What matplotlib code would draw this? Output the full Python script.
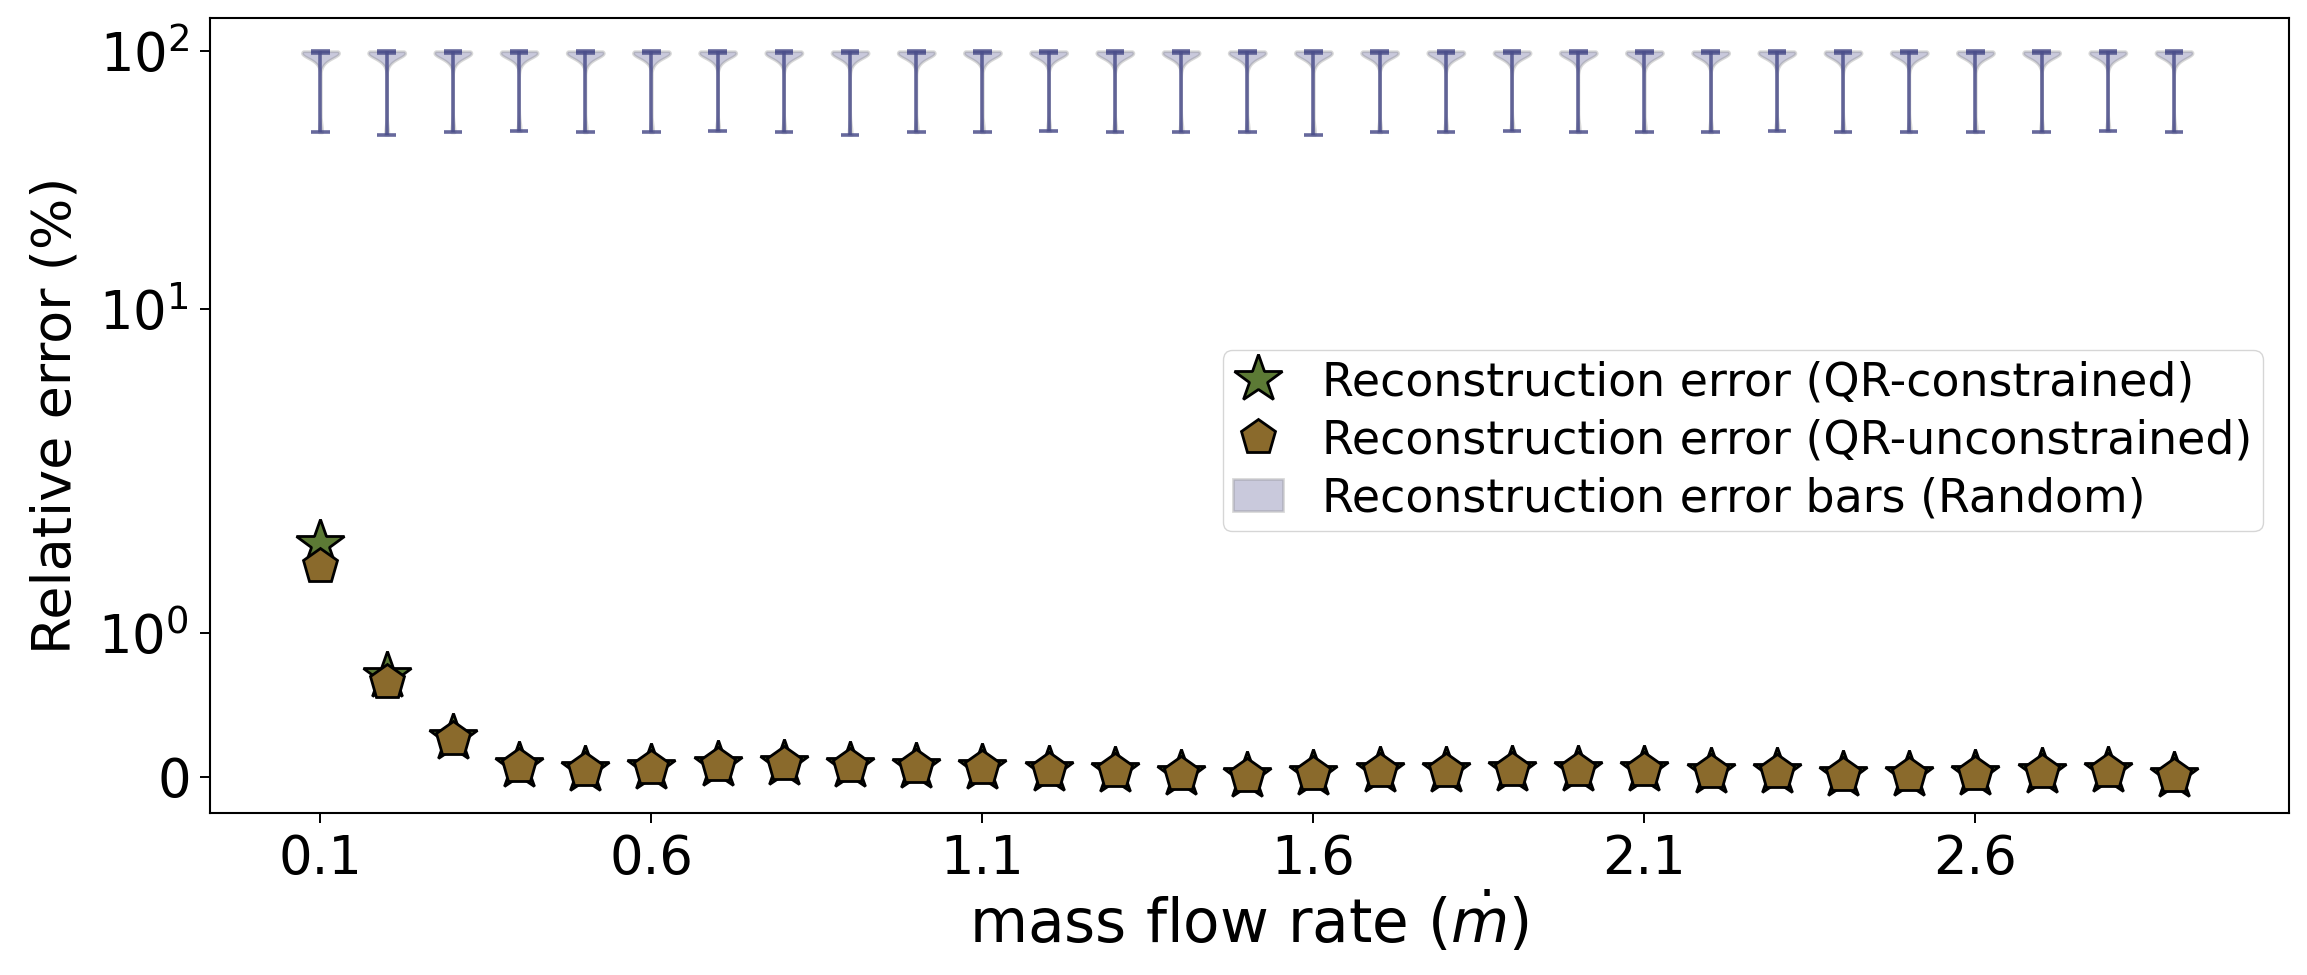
import matplotlib
matplotlib.use("Agg")
import matplotlib.pyplot as plt
import matplotlib.patches as mpatches

# colours
starGreen = "#5c7a35"
pentBrown = "#8a6a2c"
randomBlue = "#4c4f8b"

# mass flow rate positions
mass_flow = [0.1, 0.2, 0.3, 0.4, 0.5, 0.6, 0.7, 0.8, 0.9, 1.0,
             1.1, 1.2, 1.3, 1.4, 1.5, 1.6, 1.7, 1.8, 1.9, 2.0,
             2.1, 2.2, 2.3, 2.4, 2.5, 2.6, 2.7, 2.8, 2.9]

# relative error (%) - QR constrained sensors
err_constrained = [1.62, 0.70, 0.27, 0.076, 0.045, 0.062, 0.08, 0.09, 0.072, 0.07,
                   0.062, 0.05, 0.04, 0.02, 0.005, 0.02, 0.04, 0.042, 0.05, 0.05,
                   0.048, 0.032, 0.03, 0.012, 0.01, 0.02, 0.03, 0.04, 0.002]

# relative error (%) - QR unconstrained sensors
err_unconstrained = [1.47, 0.66, 0.26, 0.076, 0.045, 0.062, 0.08, 0.09, 0.072, 0.07,
                     0.062, 0.05, 0.04, 0.02, 0.005, 0.02, 0.04, 0.042, 0.05, 0.05,
                     0.048, 0.032, 0.03, 0.012, 0.01, 0.02, 0.03, 0.04, 0.002]

# random sensor placement: lowest error per flow rate ...
random_min = [48.5, 47.5, 48.5, 49, 48.5, 48.5, 49, 48.5, 47.5, 48.5,
              48.5, 49, 48.5, 48.5, 48.5, 47.5, 48.5, 48.5, 49, 48.5,
              48.5, 48.5, 49, 48.5, 48.5, 48.5, 48.5, 49, 48.5]
# ... and the bulk of the random trials, which sit close to 100 %
random_bulk = [90, 94, 96, 97, 97.5, 98, 98.5, 99, 99.5, 100, 100, 100, 100]

random_samples = [[lo] + random_bulk for lo in random_min]

fig = plt.figure(figsize=(23.07, 9.75), dpi=100)
ax = fig.add_subplot(111)
fig.subplots_adjust(left=0.091, right=0.992, top=0.982, bottom=0.166)

# violins for the random placements
parts = ax.violinplot(random_samples, positions=mass_flow, widths=0.056,
                      showextrema=True, showmedians=True, bw_method=0.3)
for body in parts["bodies"]:
    body.set_facecolor(randomBlue)
    body.set_edgecolor("gray")
    body.set_linewidth(2)
    body.set_alpha(0.3)
for key in ["cbars", "cmins", "cmaxes", "cmedians"]:
    parts[key].set_color(randomBlue)
    parts[key].set_linewidth(2.6)
    parts[key].set_alpha(0.85)

ax.plot(mass_flow, err_constrained, linestyle="none", marker="*", markersize=36,
        markerfacecolor=starGreen, markeredgecolor="black", markeredgewidth=2,
        label="Reconstruction error (QR-constrained)")
ax.plot(mass_flow, err_unconstrained, linestyle="none", marker="p", markersize=26,
        markerfacecolor=pentBrown, markeredgecolor="black", markeredgewidth=2,
        label="Reconstruction error (QR-unconstrained)")

ax.set_yscale("symlog", linthresh=2, linscale=1)
ax.set_ylim(-0.254, 135)
ax.set_xlim(-0.067, 3.073)
ax.set_xticks([0.1, 0.6, 1.1, 1.6, 2.1, 2.6])
ax.set_xticklabels(["0.1", "0.6", "1.1", "1.6", "2.1", "2.6"])

ax.tick_params(axis="both", labelsize=38, length=7, width=1.4)
ax.tick_params(axis="y", pad=8)
ax.tick_params(axis="x", pad=7)
for sp in ax.spines.values():
    sp.set_linewidth(1.5)

ax.set_xlabel(r"mass flow rate ($\dot{m}$)", fontsize=43)
ax.set_ylabel("Relative error (%)", fontsize=39, labelpad=12)

# legend with a patch for the violins
handles, labels = ax.get_legend_handles_labels()
handles.append(mpatches.Patch(facecolor=randomBlue, edgecolor="gray", alpha=0.3, linewidth=2))
labels.append("Reconstruction error bars (Random)")
ax.legend(handles, labels, loc="center right", bbox_to_anchor=(0.9875, 0.468),
          borderaxespad=0, fontsize=33, handlelength=1.1, handletextpad=0.85,
          labelspacing=0.28, borderpad=0.22)

fig.savefig("out.png", dpi=100)
